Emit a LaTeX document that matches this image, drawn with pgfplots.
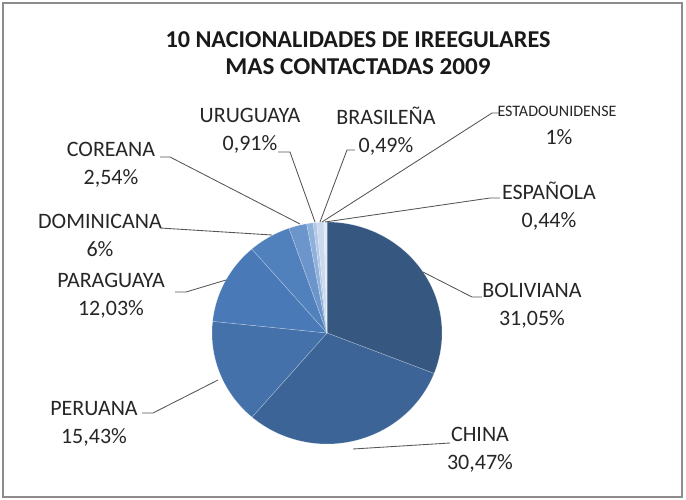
\documentclass[border=0pt]{standalone}
\usepackage{pgfplots}
\pgfplotsset{compat=1.18}
\usepackage{pgfplotstable}
\usepackage{fontspec}
\setmainfont{Carlito}

\definecolor{c1}{HTML}{365880}
\definecolor{c2}{HTML}{3D6496}
\definecolor{c3}{HTML}{4471AA}
\definecolor{c4}{HTML}{4979B6}
\definecolor{c5}{HTML}{5181BD}
\definecolor{c6}{HTML}{6B95CB}
\definecolor{c7}{HTML}{8FB0DB}
\definecolor{c8}{HTML}{B0C7E6}
\definecolor{c9}{HTML}{CBD8EE}
\definecolor{c10}{HTML}{E3EAF5}
\definecolor{leader}{HTML}{555555}
\definecolor{frame}{HTML}{8C8C8C}

\pgfplotstableread{
name value
Boliviana 31.05
China 30.47
Peruana 15.43
Paraguaya 12.03
Dominicana 6
Coreana 2.54
Uruguaya 0.91
Brasilena 0.49
Estadounidense 1
Espanola 0.44
}\piedata

% cumulative angles (clockwise from 12 o'clock)
\pgfplotstablegetrowsof{\piedata}
\pgfmathtruncatemacro\pierows{\pgfplotsretval-1}
\gdef\pietotal{0}
\foreach \r in {0,...,\pierows}{%
  \pgfplotstablegetelem{\r}{value}\of\piedata
  \pgfmathsetmacro\tmp{\pietotal+\pgfplotsretval}%
  \xdef\pietotal{\tmp}%
}
\gdef\piecum{0}
\xdef\pieang{90}
\foreach \r in {0,...,\pierows}{%
  \pgfplotstablegetelem{\r}{value}\of\piedata
  \pgfmathsetmacro\tmp{\piecum+\pgfplotsretval}%
  \xdef\piecum{\tmp}%
  \pgfmathtruncatemacro\k{\r+1}%
  \pgfmathsetmacro\frac{\piecum/\pietotal}%
  \pgfmathsetmacro\ang{90-360*\frac}%
  \expandafter\xdef\csname pieang\romannumeral\k\endcsname{\ang}%
}

\begin{document}
\begin{tikzpicture}
\begin{axis}[
  width=686pt, height=500pt, scale only axis,
  xmin=0, xmax=686, ymin=0, ymax=500, y dir=reverse,
  hide axis, clip=false, at={(0,0)}, anchor=south west,
  slice/.style={draw=white, draw opacity=0.35, line width=0.5pt, samples=90},
]
\path (axis cs:0,0) rectangle (axis cs:686,500);
\draw[frame, line width=1.6pt] (axis cs:3,3) rectangle (axis cs:682,497);

\addplot[slice, fill=c1, domain=\pieangi:\pieang] ({327+115*cos(x)},{333-111*sin(x)}) -- (axis cs:327,333) -- cycle;
\addplot[slice, fill=c2, domain=\pieangii:\pieangi] ({327+115*cos(x)},{333-111*sin(x)}) -- (axis cs:327,333) -- cycle;
\addplot[slice, fill=c3, domain=\pieangiii:\pieangii] ({327+115*cos(x)},{333-111*sin(x)}) -- (axis cs:327,333) -- cycle;
\addplot[slice, fill=c4, domain=\pieangiv:\pieangiii] ({327+115*cos(x)},{333-111*sin(x)}) -- (axis cs:327,333) -- cycle;
\addplot[slice, fill=c5, domain=\pieangv:\pieangiv] ({327+115*cos(x)},{333-111*sin(x)}) -- (axis cs:327,333) -- cycle;
\addplot[slice, fill=c6, domain=\pieangvi:\pieangv] ({327+115*cos(x)},{333-111*sin(x)}) -- (axis cs:327,333) -- cycle;
\addplot[slice, fill=c7, domain=\pieangvii:\pieangvi] ({327+115*cos(x)},{333-111*sin(x)}) -- (axis cs:327,333) -- cycle;
\addplot[slice, fill=c8, domain=\pieangviii:\pieangvii] ({327+115*cos(x)},{333-111*sin(x)}) -- (axis cs:327,333) -- cycle;
\addplot[slice, fill=c9, domain=\pieangix:\pieangviii] ({327+115*cos(x)},{333-111*sin(x)}) -- (axis cs:327,333) -- cycle;
\addplot[slice, fill=c10, domain=\pieangx:\pieangix] ({327+115*cos(x)},{333-111*sin(x)}) -- (axis cs:327,333) -- cycle;

% leader lines
\begin{scope}[leader, line width=0.85pt]
\draw (axis cs:482,297) -- (axis cs:472,297) -- (axis cs:423,272);
\draw (axis cs:450,443) -- (axis cs:353,449);
\draw (axis cs:142,413) -- (axis cs:153,413) -- (axis cs:218,380);
\draw (axis cs:175,292) -- (axis cs:186,292) -- (axis cs:226,280);
\draw (axis cs:160,228) -- (axis cs:272,235);
\draw (axis cs:160,157) -- (axis cs:170,157) -- (axis cs:300,224);
\draw (axis cs:278,152) -- (axis cs:290,152) -- (axis cs:315,222);
\draw (axis cs:355,150) -- (axis cs:347,150) -- (axis cs:320,222);
\draw (axis cs:500,113) -- (axis cs:492,113) -- (axis cs:322,222);
\draw (axis cs:500,198) -- (axis cs:490,198) -- (axis cs:325,222);
\end{scope}

% labels
\begin{scope}[every node/.style={align=center, text=black!85, inner sep=0pt, font=\fontsize{22}{28}\selectfont}]
\node[text=black!90] at (axis cs:358,40) {\fontsize{24.2}{30}\selectfont\bfseries 10 NACIONALIDADES DE IREEGULARES};
\node[text=black!90] at (axis cs:358,67) {\fontsize{24.2}{30}\selectfont\bfseries\scalebox{1.04}[1]{MAS CONTACTADAS 2009}};
\node at (axis cs:532,306) {BOLIVIANA\\31,05\%};
\node at (axis cs:480,450) {CHINA\\30,47\%};
\node at (axis cs:94,424) {PERUANA\\15,43\%};
\node at (axis cs:111,296) {PARAGUAYA\\12,03\%};
\node at (axis cs:100,235) {DOMINICANA\\6\%};
\node at (axis cs:111,165) {COREANA\\2,54\%};
\node at (axis cs:250,131) {URUGUAYA\\0,91\%};
\node at (axis cs:386,131) {BRASILEÑA\\0,49\%};
\node at (axis cs:557,111) {\fontsize{16}{18}\selectfont ESTADOUNIDENSE};
\node at (axis cs:559,137) {1\%};
\node at (axis cs:549,206) {ESPAÑOLA\\0,44\%};
\end{scope}
\end{axis}
\end{tikzpicture}
\end{document}
